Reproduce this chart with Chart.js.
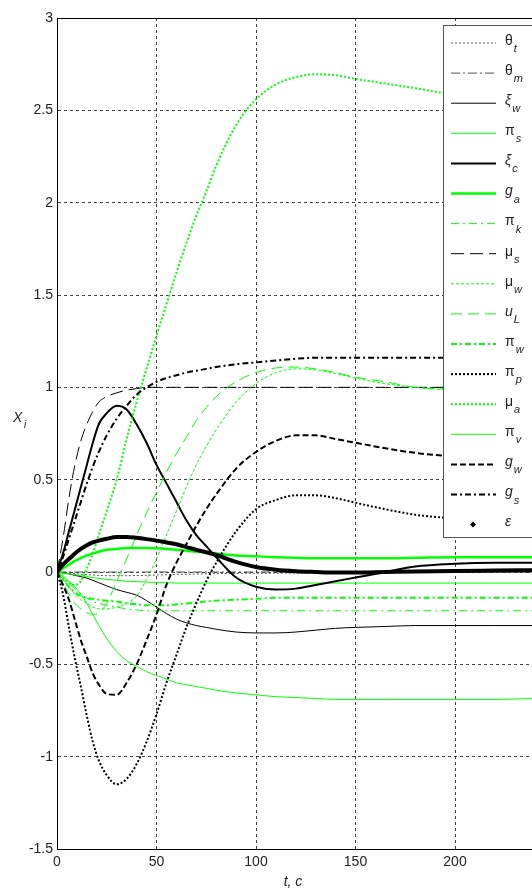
<!DOCTYPE html>
<html>
<head>
<meta charset="utf-8">
<script src="https://cdn.jsdelivr.net/npm/chart.js@4.4.0/dist/chart.umd.min.js"></script>
<style>
  html, body { margin: 0; padding: 0; background: #fff; overflow: hidden; }
  #wrap { width: 545px; height: 889px; }
</style>
</head>
<body>
<div id="wrap"><canvas id="chart" width="545" height="889"></canvas></div>
<script>
// time, s
const tSec = [0, 3, 6, 9, 12, 15, 18, 21, 25, 30, 35, 40, 45, 50, 55, 60, 65, 70, 75, 80, 90, 100, 110, 120, 130, 140, 150, 165, 180, 200, 220, 240];

const thetaT = [0, -0.003, -0.006, -0.009, -0.012, -0.014, -0.016, -0.018, -0.02, -0.02, -0.02, -0.019, -0.018, -0.016, -0.015, -0.013, -0.012, -0.011, -0.01, -0.009, -0.008, -0.007, -0.006, -0.005, -0.004, -0.004, -0.003, -0.003, -0.002, -0.002, -0.002, -0.002];
const thetaM = [0, 0, 0, 0, 0, 0, 0, 0, 0, 0, 0, 0, 0, 0, 0, 0, 0, 0, 0, 0, 0, 0, 0, 0, 0, 0, 0, 0, 0, 0, 0, 0];
const xiW = [0, -0.005, -0.01, -0.018, -0.025, -0.033, -0.045, -0.058, -0.075, -0.095, -0.11, -0.125, -0.155, -0.19, -0.225, -0.255, -0.275, -0.29, -0.3, -0.31, -0.325, -0.33, -0.33, -0.325, -0.315, -0.305, -0.3, -0.295, -0.29, -0.29, -0.29, -0.29];
const piS = [0, -0.005, -0.01, -0.015, -0.02, -0.025, -0.03, -0.035, -0.04, -0.045, -0.05, -0.052, -0.055, -0.057, -0.058, -0.06, -0.06, -0.06, -0.06, -0.06, -0.06, -0.06, -0.06, -0.06, -0.06, -0.06, -0.06, -0.06, -0.06, -0.06, -0.06, -0.06];
const xiC = [0, 0.1, 0.22, 0.34, 0.46, 0.58, 0.7, 0.8, 0.86, 0.9, 0.88, 0.8, 0.7, 0.58, 0.48, 0.38, 0.28, 0.2, 0.14, 0.08, -0.03, -0.08, -0.095, -0.09, -0.07, -0.05, -0.03, 0, 0.03, 0.045, 0.05, 0.05];
const gA = [0, 0.02, 0.04, 0.06, 0.075, 0.09, 0.1, 0.11, 0.12, 0.125, 0.13, 0.13, 0.13, 0.128, 0.125, 0.12, 0.115, 0.11, 0.105, 0.1, 0.09, 0.085, 0.08, 0.077, 0.075, 0.075, 0.075, 0.075, 0.077, 0.08, 0.08, 0.08];
const piK = [0, -0.03, -0.06, -0.09, -0.12, -0.14, -0.16, -0.17, -0.18, -0.19, -0.2, -0.205, -0.21, -0.21, -0.21, -0.21, -0.21, -0.21, -0.21, -0.21, -0.21, -0.21, -0.21, -0.21, -0.21, -0.21, -0.21, -0.21, -0.21, -0.21, -0.21, -0.21];
const muS = [0, 0.18, 0.4, 0.58, 0.71, 0.8, 0.87, 0.92, 0.95, 0.97, 0.985, 0.993, 1, 1, 1, 1, 1, 1, 1, 1, 1, 1, 1, 1, 1, 1, 1, 1, 1, 1, 1, 1];
const muW = [0, -0.04, -0.08, -0.12, -0.15, -0.17, -0.19, -0.2, -0.2, -0.19, -0.17, -0.13, -0.04, 0.07, 0.2, 0.33, 0.46, 0.58, 0.68, 0.77, 0.92, 1.02, 1.08, 1.1, 1.095, 1.075, 1.05, 1.02, 1.0, 0.985, 0.98, 0.975];
const uL = [0, -0.06, -0.12, -0.17, -0.2, -0.22, -0.23, -0.22, -0.17, -0.05, 0.07, 0.2, 0.32, 0.43, 0.54, 0.64, 0.73, 0.82, 0.89, 0.95, 1.03, 1.08, 1.105, 1.11, 1.1, 1.08, 1.055, 1.03, 1.0, 0.99, 0.985, 0.98];
const piW = [0, -0.04, -0.08, -0.11, -0.13, -0.14, -0.145, -0.15, -0.155, -0.16, -0.17, -0.175, -0.18, -0.18, -0.18, -0.175, -0.17, -0.165, -0.16, -0.155, -0.15, -0.145, -0.14, -0.14, -0.14, -0.14, -0.14, -0.14, -0.14, -0.14, -0.14, -0.14];
const piP = [0, -0.12, -0.3, -0.47, -0.62, -0.78, -0.92, -1.02, -1.1, -1.15, -1.12, -1.04, -0.92, -0.77, -0.6, -0.45, -0.3, -0.17, -0.05, 0.05, 0.22, 0.34, 0.39, 0.415, 0.415, 0.4, 0.375, 0.34, 0.31, 0.29, 0.275, 0.265];
const muA = [0, -0.03, -0.06, -0.07, -0.05, 0.02, 0.1, 0.2, 0.33, 0.5, 0.72, 0.92, 1.1, 1.28, 1.45, 1.62, 1.78, 1.93, 2.06, 2.2, 2.42, 2.56, 2.64, 2.68, 2.695, 2.69, 2.67, 2.645, 2.62, 2.585, 2.57, 2.56];
const piV = [0, -0.02, -0.05, -0.08, -0.12, -0.17, -0.23, -0.29, -0.36, -0.43, -0.48, -0.51, -0.54, -0.56, -0.58, -0.6, -0.61, -0.62, -0.63, -0.64, -0.655, -0.665, -0.675, -0.68, -0.685, -0.69, -0.69, -0.69, -0.69, -0.69, -0.69, -0.685];
const gW = [0, -0.07, -0.15, -0.26, -0.37, -0.46, -0.55, -0.61, -0.66, -0.665, -0.6, -0.5, -0.37, -0.23, -0.07, 0.05, 0.15, 0.25, 0.34, 0.42, 0.56, 0.65, 0.71, 0.74, 0.74, 0.72, 0.7, 0.67, 0.645, 0.625, 0.61, 0.6];
const gS = [0, 0.08, 0.18, 0.28, 0.38, 0.48, 0.57, 0.65, 0.74, 0.83, 0.9, 0.96, 1.0, 1.03, 1.05, 1.065, 1.08, 1.09, 1.1, 1.11, 1.125, 1.135, 1.145, 1.155, 1.16, 1.16, 1.16, 1.16, 1.16, 1.16, 1.16, 1.16];
const eps = [0, 0.04, 0.07, 0.1, 0.125, 0.145, 0.16, 0.17, 0.18, 0.19, 0.19, 0.185, 0.178, 0.17, 0.16, 0.15, 0.135, 0.12, 0.107, 0.092, 0.055, 0.027, 0.012, 0.004, 0, -0.003, -0.003, 0, 0.003, 0.006, 0.008, 0.01];

// legend names: [symbol, subscript]
const names = [['θ', 't'], ['θ', 'm'], ['ξ', 'w'], ['π', 's'], ['ξ', 'c'], ['g', 'a'], ['π', 'k'], ['μ', 's'],
  ['μ', 'w'], ['u', 'L'], ['π', 'w'], ['π', 'p'], ['μ', 'a'], ['π', 'v'], ['g', 'w'], ['g', 's'], ['ε', '']];

const yTicks = [-1.5, -1, -0.5, 0, 0.5, 1, 1.5, 2, 2.5, 3];
const xTicks = [0, 50, 100, 150, 200];

const GREEN = '#00ff00';
const series = [
  { v: thetaT, c: '#555', w: 1, d: [2, 2] },
  { v: thetaM, c: '#555', w: 1, d: [9, 3, 2, 3] },
  { v: xiW, c: '#000', w: 1, d: [] },
  { v: piS, c: GREEN, w: 1, d: [] },
  { v: xiC, c: '#000', w: 2, d: [] },
  { v: gA, c: GREEN, w: 2.5, d: [] },
  { v: piK, c: GREEN, w: 1, d: [8, 4, 2, 4] },
  { v: muS, c: '#000', w: 1, d: [13, 6] },
  { v: muW, c: GREEN, w: 1, d: [3, 2] },
  { v: uL, c: GREEN, w: 1, d: [11, 6] },
  { v: piW, c: GREEN, w: 2, d: [6, 3, 2, 3] },
  { v: piP, c: '#000', w: 2, d: [2, 2] },
  { v: muA, c: GREEN, w: 2, d: [2, 2] },
  { v: piV, c: GREEN, w: 1, d: [] },
  { v: gW, c: '#000', w: 2, d: [6, 3] },
  { v: gS, c: '#000', w: 2, d: [6, 3, 2, 3] },
  { v: eps, c: '#000', w: 4, d: [], marker: true }
];

const datasets = series.map((s, i) => ({
  label: names[i].join('_'),
  data: tSec.map((t, k) => ({ x: t, y: s.v[k] })),
  borderColor: s.c,
  borderWidth: s.w,
  borderDash: s.d,
  pointRadius: 0,
  fill: false,
  cubicInterpolationMode: 'monotone',
  order: series.length - i,
  marker: !!s.marker
}));

const overlay = {
  id: 'overlay',
  afterDraw(chart) {
    const ctx = chart.ctx, a = chart.chartArea;
    ctx.save();
    // top box edge
    ctx.strokeStyle = '#000';
    ctx.lineWidth = 1;
    ctx.setLineDash([]);
    ctx.beginPath();
    ctx.moveTo(a.left, Math.round(a.top) + 0.5);
    ctx.lineTo(a.right, Math.round(a.top) + 0.5);
    ctx.stroke();

    // legend
    const bx = 443.5, by = 25.5;
    ctx.fillStyle = '#fff';
    ctx.fillRect(bx, by, 120, 512);
    ctx.strokeStyle = '#555';
    ctx.strokeRect(bx, by, 120, 512);
    chart.data.datasets.forEach((ds, i) => {
      const y = 43 + i * 30.1;
      if (ds.marker) {
        ctx.fillStyle = '#000';
        ctx.beginPath();
        ctx.moveTo(473, y - 3); ctx.lineTo(476, y); ctx.lineTo(473, y + 3); ctx.lineTo(470, y);
        ctx.closePath();
        ctx.fill();
      } else {
        ctx.strokeStyle = ds.borderColor;
        ctx.lineWidth = ds.borderWidth;
        ctx.setLineDash(ds.borderDash);
        ctx.beginPath();
        ctx.moveTo(451, y);
        ctx.lineTo(496, y);
        ctx.stroke();
        ctx.setLineDash([]);
      }
      const [sym, sub] = names[i];
      ctx.fillStyle = '#222';
      ctx.textBaseline = 'middle';
      ctx.textAlign = 'left';
      const italicSym = (sym === 'g' || sym === 'u' || sym === 'ε' || sym === 'ξ');
      ctx.font = (italicSym ? 'italic ' : '') + '14px "Liberation Sans", Arial, sans-serif';
      ctx.fillText(sym, 505, y - 2);
      const w = ctx.measureText(sym).width;
      if (sub) {
        ctx.font = 'italic 11px "Liberation Sans", Arial, sans-serif';
        ctx.fillText(sub, 505 + w + 1, y + 6);
      }
    });

    // axis titles
    ctx.fillStyle = '#222';
    ctx.textBaseline = 'middle';
    ctx.textAlign = 'center';
    ctx.font = 'italic 14px "Liberation Sans", Arial, sans-serif';
    ctx.fillText('t, c', 293, 882);
    ctx.textAlign = 'left';
    ctx.fillText('X', 13, 418);
    ctx.font = 'italic 10px "Liberation Sans", Arial, sans-serif';
    ctx.fillText('i', 24, 425);
    ctx.restore();
  }
};

const tickFont = { family: '"Liberation Sans", Arial, sans-serif', size: 14 };

new Chart(document.getElementById('chart'), {
  type: 'line',
  data: { datasets },
  options: {
    responsive: false,
    animation: false,
    layout: { padding: { top: 18, right: 10.4, bottom: 0, left: 0 } },
    plugins: { legend: { display: false }, tooltip: { enabled: false } },
    scales: {
      x: {
        type: 'linear',
        min: 0,
        max: 240,
        afterBuildTicks: s => { s.ticks = xTicks.map(v => ({ value: v })); },
        afterFit: s => { s.height = 40; },
        ticks: { color: '#222', font: tickFont, padding: 5, maxRotation: 0, callback: v => String(v) },
        grid: { color: 'rgba(0,0,0,0.75)', lineWidth: 1, drawTicks: false },
        border: { display: true, color: '#000', width: 1, dash: [3, 3] }
      },
      y: {
        type: 'linear',
        min: -1.5,
        max: 3,
        afterBuildTicks: s => { s.ticks = yTicks.map(v => ({ value: v })); },
        afterFit: s => { s.width = 57; },
        ticks: { color: '#222', font: tickFont, padding: 4, callback: v => String(v) },
        grid: { color: 'rgba(0,0,0,0.75)', lineWidth: 1, drawTicks: false },
        border: { display: true, color: '#000', width: 1, dash: [3, 3] }
      }
    }
  },
  plugins: [overlay]
});
</script>
</body>
</html>
